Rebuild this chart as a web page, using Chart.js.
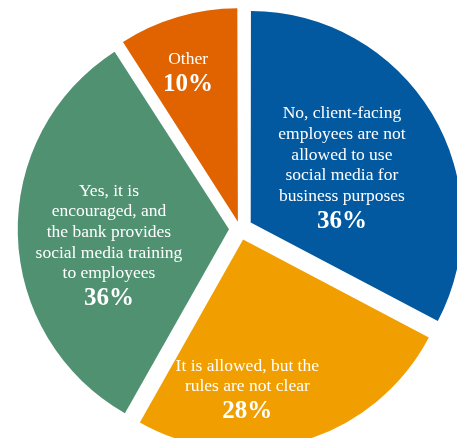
<!DOCTYPE html>
<html>
<head>
<meta charset="utf-8">
<script src="https://cdn.jsdelivr.net/npm/chart.js@4/dist/chart.umd.min.js"></script>
<style>
  html, body { margin: 0; padding: 0; background: #ffffff; }
  #wrap { position: relative; width: 457px; height: 438px; overflow: hidden; }
</style>
</head>
<body>
<div id="wrap"><canvas id="pie"></canvas></div>
<script>
// Survey answers: may client-facing employees use social media for business?
const categories = [
  ["No, client-facing", "employees are not", "allowed to use", "social media for", "business purposes"],
  ["It is allowed, but the", "rules are not clear"],
  ["Yes, it is", "encouraged, and", "the bank provides", "social media training", "to employees"],
  ["Other"]
];
const shares = [36, 28, 36, 10];           // percent of respondents
const sliceColors = ["#03599f", "#f19f00", "#4f9170", "#e16300"];
const sliceOffsets = [50, 44, 44, 30];       // explode distance per slice
// label placement inside each slice: fraction of the sweep, and distance from centre
const labelSweep = [0.5, 0.65, 0.455, 0.44];
const labelDist = [119, 160, 132, 165];

const SERIF = '"Liberation Serif", "Times New Roman", serif';

const sliceLabels = {
  id: 'sliceLabels',
  afterDatasetsDraw(chart) {
    const ctx = chart.ctx;
    const meta = chart.getDatasetMeta(0);
    meta.data.forEach((arc, i) => {
      const p = arc.getProps(['x', 'y', 'startAngle', 'endAngle'], true);
      const a = p.startAngle + labelSweep[i] * (p.endAngle - p.startAngle);
      const cx = p.x + Math.cos(a) * labelDist[i];
      const cy = p.y + Math.sin(a) * labelDist[i];
      const lines = categories[i];
      const lineH = 20.7;
      const pctGap = 25;
      const blockH = (lines.length - 1) * lineH + pctGap;
      const y = cy - blockH / 2;
      ctx.save();
      ctx.fillStyle = '#ffffff';
      ctx.textAlign = 'center';
      ctx.textBaseline = 'middle';
      ctx.font = '17.5px ' + SERIF;
      lines.forEach((ln, k) => {
        ctx.fillText(ln, cx, y + k * lineH);
      });
      ctx.font = 'bold 25px ' + SERIF;
      ctx.fillText(shares[i] + '%', cx, y + (lines.length - 1) * lineH + pctGap);
      ctx.restore();
    });
  }
};

new Chart(document.getElementById('pie'), {
  type: 'pie',
  data: {
    labels: categories.map(l => l.join(' ')),
    datasets: [{
      data: shares,
      backgroundColor: sliceColors,
      borderWidth: 0,
      offset: sliceOffsets,
      hoverOffset: 0,
      clip: false
    }]
  },
  options: {
    responsive: true,
    maintainAspectRatio: false,
    animation: false,
    radius: 210,
    rotation: 0,
    layout: { padding: { left: 23, right: 0, top: 20, bottom: 0 } },
    plugins: {
      legend: { display: false },
      tooltip: { enabled: false }
    },
    events: []
  },
  plugins: [sliceLabels]
});
</script>
</body>
</html>
